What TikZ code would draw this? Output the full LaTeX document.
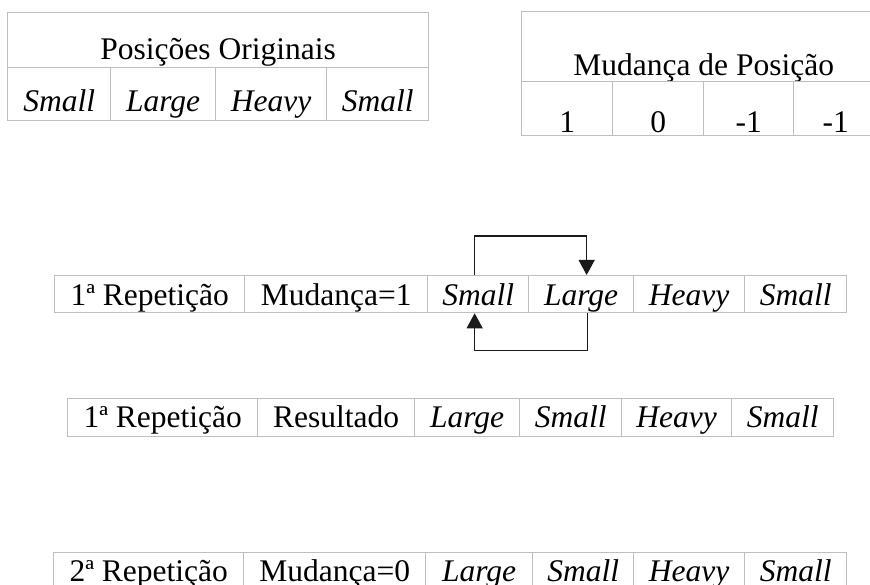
\documentclass[tikz,border=0pt]{standalone}
\usepackage{fontspec}
\setmainfont{Liberation Serif}
\usetikzlibrary{arrows.meta}
\definecolor{gridgray}{HTML}{BEBEBE}
\definecolor{inkdark}{HTML}{1A1A1A}
% \cellbox{name}{x}{y}{width}{height}{baseline offset from bottom}{text}
\newcommand\cellbox[7]{%
  \node[cell,anchor=north west,minimum width=#4pt,minimum height=#5pt,
        text height={(#5-#6)*1pt},text depth=#6pt] (#1) at (#2,#3) {#7};}
\begin{document}
\begin{tikzpicture}[x=1pt,y=-1pt,
  cell/.style={draw=gridgray,line width=1.3pt,inner sep=0pt,
               font=\fontsize{31.5}{36}\selectfont},
  conn/.style={draw=inkdark,line width=1.2pt,
               -{Triangle[length=15pt,width=16pt]}}]
\useasboundingbox (0,0) rectangle (870,585);
\clip (0,0) rectangle (870,585);

% original positions
\cellbox{ph}{7}{12}{421}{55}{8}{Posições Originais}
\cellbox{p1}{7}{67}{103}{53}{9.5}{\textit{Small}}
\cellbox{p2}{110}{67}{105}{53}{9.5}{\textit{Large}}
\cellbox{p3}{215}{67}{111}{53}{9.5}{\textit{Heavy}}
\cellbox{p4}{326}{67}{102}{53}{9.5}{\textit{Small}}

% position changes
\cellbox{mh}{521}{11}{364}{70}{6}{Mudança de Posição}
\cellbox{m1}{521}{81}{91}{54}{3.5}{1}
\cellbox{m2}{612}{81}{91}{54}{3.5}{0}
\cellbox{m3}{703}{81}{90}{54}{3.5}{-1}
\cellbox{m4}{793}{81}{84}{54}{3.5}{-1}

% first repetition, change = 1
\cellbox{a1}{54}{275}{190}{37}{7}{1ª Repetição}
\cellbox{a2}{244}{275}{183}{37}{7}{Mudança=1}
\cellbox{a3}{427}{275}{101}{37}{7}{\textit{Small}}
\cellbox{a4}{528}{275}{105}{37}{7}{\textit{Large}}
\cellbox{a5}{633}{275}{111}{37}{7}{\textit{Heavy}}
\cellbox{a6}{744}{275}{102}{37}{7}{\textit{Small}}

% swap arrows
\draw[conn] ([xshift=-3.5pt]a3.north) -- ++(0,-39) -| ([xshift=5.5pt]a4.north);
\draw[conn] ([xshift=6pt]a4.south) -- ++(0,37) -| ([xshift=-3.5pt]a3.south);

% first repetition, result
\cellbox{b1}{67}{398}{190}{38}{9}{1ª Repetição}
\cellbox{b2}{257}{398}{157}{38}{9}{Resultado}
\cellbox{b3}{414}{398}{105}{38}{9}{\textit{Large}}
\cellbox{b4}{519}{398}{102}{38}{9}{\textit{Small}}
\cellbox{b5}{621}{398}{110}{38}{9}{\textit{Heavy}}
\cellbox{b6}{731}{398}{102}{38}{9}{\textit{Small}}

% second repetition, change = 0
\cellbox{c1}{53}{552}{190}{38}{9}{2ª Repetição}
\cellbox{c2}{243}{552}{182}{38}{9}{Mudança=0}
\cellbox{c3}{425}{552}{107}{38}{9}{\textit{Large}}
\cellbox{c4}{532}{552}{101}{38}{9}{\textit{Small}}
\cellbox{c5}{633}{552}{111}{38}{9}{\textit{Heavy}}
\cellbox{c6}{744}{552}{102}{38}{9}{\textit{Small}}
\end{tikzpicture}
\end{document}
